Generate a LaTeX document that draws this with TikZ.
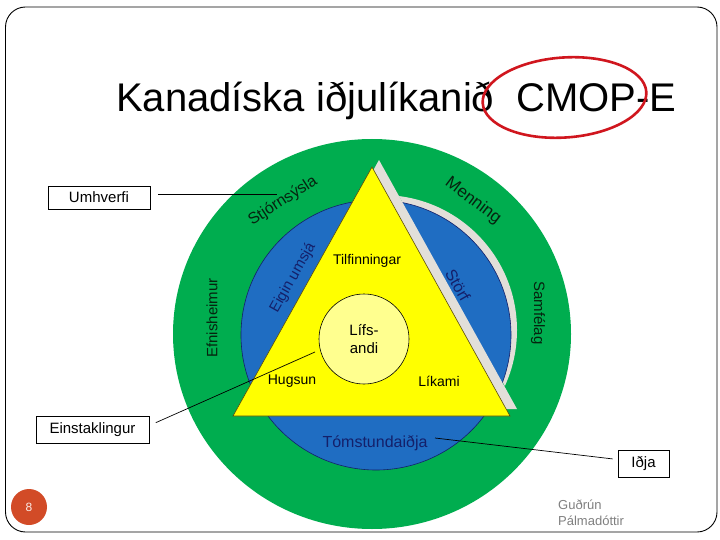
\documentclass[tikz,border=0pt]{standalone}
\usepackage{fontspec}
\setmainfont{Liberation Sans}
\definecolor{ringgreen}{HTML}{00AD4F}
\definecolor{ringblue}{HTML}{1F6DC2}
\definecolor{shadowgrey}{HTML}{E2DFD9}
\definecolor{tri}{HTML}{FFFF00}
\definecolor{core}{HTML}{FFFF8F}
\definecolor{navytext}{HTML}{14206A}
\definecolor{greentext}{HTML}{06230F}
\definecolor{triedge}{HTML}{5A4A10}
\definecolor{redmark}{HTML}{D0161E}
\definecolor{pagedot}{HTML}{D24B27}
\definecolor{authgrey}{HTML}{7F7F7F}
\newcommand\fs[1]{\fontsize{#1}{#1}\selectfont}
\begin{document}
\begin{tikzpicture}[x=1pt,y=-1pt,
  labelbox/.style={draw=black, line width=0.8pt, fill=white, inner sep=0pt, font=\fs{15}},
  lbl/.style={inner sep=0pt, font=\fs{14}},
  ringlbl/.style={inner sep=0pt, font=\fs{15}, text=greentext},
  bluelbl/.style={inner sep=0pt, font=\fs{15}, text=navytext},
  conn/.style={draw=black, line width=0.7pt}]
\useasboundingbox (0,0) rectangle (720,540);
\draw[line width=0.9pt, rounded corners=20pt] (5.5,7) rectangle (717,532);

% title
\node[anchor=base west, inner sep=0pt, font=\fs{40}] (title) at (116,112) {Kanadíska iðjulíkanið\ \ CMOP-E};
\draw[redmark, line width=2.6pt, rotate around={4:(564.5,97.5)}] (564.5,97.5) ellipse [x radius=82, y radius=40];

% outer ring
\fill[ringgreen] (372,334) ellipse [x radius=199, y radius=195];

% grey shadow of the right wedge
\begin{scope}
\clip (337,85) -- (700,85) -- (700,485) -- (560,485) -- cycle;
\fill[shadowgrey] (382,330) circle[radius=135];
\end{scope}

% blue ring
\filldraw[fill=ringblue, draw=navytext, line width=0.6pt] (376,335) circle[radius=135];

% triangle with shadow
\fill[shadowgrey] (379,160) -- (517,409) -- (240,409) -- cycle;
\filldraw[fill=tri, draw=triedge, line width=0.6pt] (372,167) -- (510,416) -- (233,416) -- cycle;

% core
\node[circle, draw=black, line width=0.6pt, fill=core, minimum size=90pt, inner sep=0pt, align=center, font=\fontsize{15}{17.5}\selectfont] (lif) at (364,339) {Lífs-\\andi};

% labels
\node[lbl] (tilf) at (367,261) {Tilfinningar};
\node[lbl] (hug) at (292,381) {Hugsun};
\node[lbl] (lik) at (439,381) {Líkami};
\node[bluelbl, font=\fs{16}] (tom) at (375,443) {Tómstundaiðja};
\node[bluelbl, rotate=60.5] (eig) at (293,278) {Eigin umsjá};
\node[bluelbl, rotate=-60.5, font=\fs{16}] (sto) at (458,285) {Störf};
\node[ringlbl, rotate=90] (efn) at (212,318) {Efnisheimur};
\node[ringlbl, rotate=-90] (sam) at (538,313) {Samfélag};
\node[ringlbl, rotate=33, font=\fs{16}] (stj) at (283,201) {Stjórnsýsla};
\node[ringlbl, rotate=-37, font=\fs{17}] (men) at (473,201) {Menning};

% callout boxes
\node[labelbox, minimum width=102pt, minimum height=23pt] (um) at (99,197.5) {Umhverfi};
\node[labelbox, minimum width=113pt, minimum height=27pt] (ein) at (92.5,429.5) {Einstaklingur};
\node[labelbox, minimum width=51pt, minimum height=27pt] (idja) at (643.5,463.5) {Iðja};
\coordinate (umend) at (277,194);
\coordinate (hugend) at (315,352);
\coordinate (tomend) at (435,438);
\draw[conn, shorten <=8pt] ([yshift=3.5pt]um.east) -- (umend);
\draw[conn, shorten <=7pt] ([yshift=4pt]ein.east) -- (hugend);
\draw[conn, shorten <=5pt] ([yshift=4pt]idja.west) -- (tomend);

% footer
\node[anchor=west, inner sep=0pt, font=\fontsize{13}{16}\selectfont, text=authgrey, align=left] (auth) at (558,513) {Guðrún\\Pálmadóttir};
\node[circle, fill=pagedot, minimum size=36pt, inner sep=0pt, text=white!90!pagedot, font=\fs{12}] (pg) at (29,507) {8};
\end{tikzpicture}
\end{document}
